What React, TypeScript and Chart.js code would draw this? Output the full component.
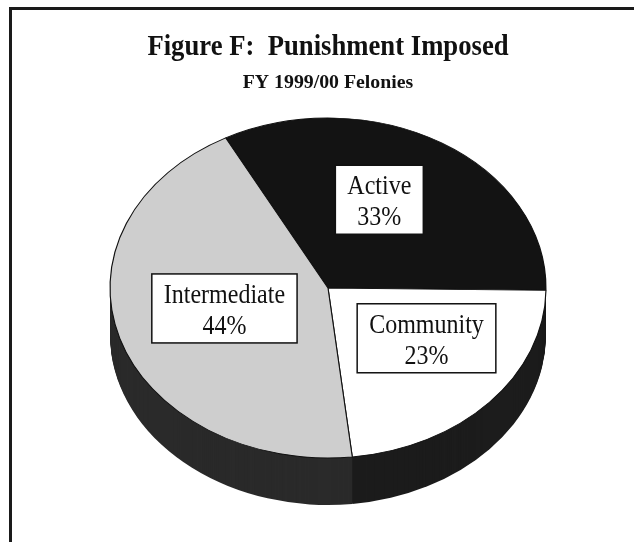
import React, { useEffect, useRef } from 'react';
import { Chart, registerables } from 'chart.js';

Chart.register(...registerables);

// ---- data ----
const categories = ['Active', 'Community', 'Intermediate'];
const percents = [33, 23, 44];
const titleText = 'Figure F:  Punishment Imposed';
const subtitleText = 'FY 1999/00 Felonies';

// ---- styles ----
const topColors = ['#131313', '#ffffff', '#cecece'];
const sideColors = ['#161616', '#1c1c1c', '#2a2a2a'];
const labelAnchor = [
  { f: 0.57, da: -7 },
  { f: 0.54, da: -9 },
  { f: 0.49, da: 3 },
];
const DEPTH = 47;
const SERIF = "'Liberation Serif', 'Times New Roman', serif";
const W = 622;
const H = 532;

function getGeom(chart: any) {
  const meta = chart.getDatasetMeta(0);
  const arc0 = meta.data[0];
  const p = arc0.getProps(['x', 'y', 'outerRadius'], true);
  const ca = chart.chartArea;
  const rx = ca.width / 2;
  const ry = (ca.height - DEPTH) / 2;
  const cx = (ca.left + ca.right) / 2;
  const cy = ca.top + ry;
  return { meta, x: p.x, y: p.y, R: p.outerRadius, sx: rx / p.outerRadius, sy: ry / p.outerRadius, cx, cy };
}

function scaledText(ctx: any, text: string, x: number, y: number, font: string, kx: number, ky: number) {
  ctx.save();
  ctx.font = font;
  ctx.translate(x, y);
  ctx.scale(kx, ky);
  ctx.fillText(text, 0, 0);
  ctx.restore();
}

const pie3d = {
  id: 'pie3d',
  beforeDatasetsDraw(chart: any) {
    const g = getGeom(chart);
    const ctx = chart.ctx;
    for (let d = DEPTH; d >= 1; d--) {
      ctx.save();
      ctx.translate(g.cx, g.cy + d);
      ctx.scale(g.sx, g.sy);
      g.meta.data.forEach((arc: any, i: number) => {
        const p = arc.getProps(['startAngle', 'endAngle', 'outerRadius'], true);
        ctx.beginPath();
        ctx.moveTo(0, 0);
        ctx.arc(0, 0, p.outerRadius, p.startAngle, p.endAngle);
        ctx.closePath();
        ctx.fillStyle = sideColors[i];
        ctx.fill();
      });
      ctx.restore();
    }
    ctx.save();
    ctx.translate(g.cx, g.cy);
    ctx.scale(g.sx, g.sy);
    ctx.translate(-g.x, -g.y);
  },
  afterDatasetsDraw(chart: any) {
    chart.ctx.restore();
  },
  afterDraw(chart: any) {
    const g = getGeom(chart);
    const ctx = chart.ctx;
    ctx.save();
    ctx.textAlign = 'center';
    ctx.textBaseline = 'alphabetic';
    ctx.fillStyle = '#111111';
    // titles
    const top = chart.chartArea.top;
    scaledText(ctx, titleText, g.cx, top - 63, `bold 29px ${SERIF}`, 0.92, 1);
    scaledText(ctx, subtitleText, g.cx, top - 30, `bold 18px ${SERIF}`, 1.1, 1);
    // slice labels
    const labelFont = `24px ${SERIF}`;
    ctx.font = labelFont;
    g.meta.data.forEach((arc: any, i: number) => {
      const p = arc.getProps(['startAngle', 'endAngle', 'outerRadius'], true);
      const a = (p.startAngle + p.endAngle) / 2 + (labelAnchor[i].da * Math.PI) / 180;
      const r = labelAnchor[i].f * p.outerRadius;
      const X = g.cx + r * Math.cos(a) * g.sx;
      const Y = g.cy + r * Math.sin(a) * g.sy;
      const lines = [categories[i], percents[i] + '%'];
      ctx.font = labelFont;
      const tw = Math.max(...lines.map((l) => ctx.measureText(l).width));
      const bw = tw + 24;
      const bh = 69;
      ctx.fillStyle = '#ffffff';
      ctx.fillRect(X - bw / 2, Y - bh / 2, bw, bh);
      ctx.lineWidth = 1.5;
      ctx.strokeStyle = '#111111';
      ctx.strokeRect(X - bw / 2, Y - bh / 2, bw, bh);
      ctx.fillStyle = '#111111';
      scaledText(ctx, lines[0], X, Y - 5.5, labelFont, 1, 1.1);
      scaledText(ctx, lines[1], X, Y + 25.5, labelFont, 1, 1.1);
    });
    ctx.restore();
  },
};

export default function App() {
  const ref = useRef<HTMLCanvasElement>(null);
  useEffect(() => {
    if (!ref.current) return;
    const chart = new Chart(ref.current, {
      type: 'pie',
      data: {
        labels: categories,
        datasets: [
          {
            data: percents,
            backgroundColor: topColors,
            borderColor: '#111111',
            borderWidth: 1,
            clip: false,
          } as any,
        ],
      },
      options: {
        responsive: false,
        animation: false,
        rotation: -28,
        layout: { padding: { left: 98, right: 88, top: 108, bottom: 37 } },
        plugins: {
          legend: { display: false },
          tooltip: { enabled: false },
          title: { display: false },
        },
      } as any,
      plugins: [pie3d],
    });
    return () => chart.destroy();
  }, []);
  return (
    <div
      style={{
        position: 'absolute',
        top: 7,
        left: 9,
        width: W + 3,
        height: H + 3,
        boxSizing: 'border-box',
        borderTop: '3px solid #1a1a1a',
        borderLeft: '3px solid #1a1a1a',
        background: '#ffffff',
      }}
    >
      <canvas ref={ref} width={W} height={H} style={{ display: 'block' }} />
    </div>
  );
}
